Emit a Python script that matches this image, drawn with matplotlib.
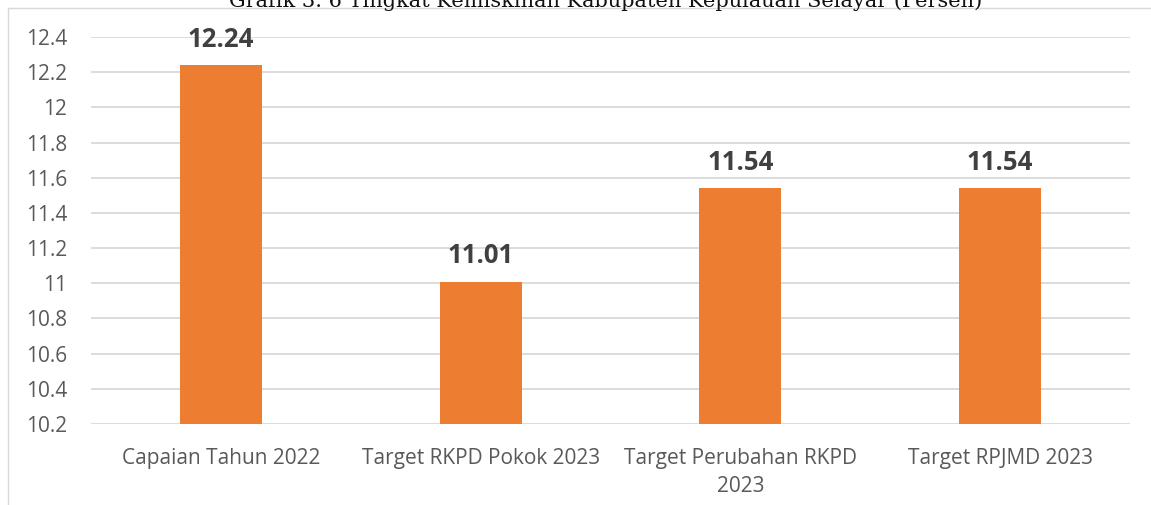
import matplotlib.pyplot as plt
from matplotlib.lines import Line2D

categories = ["Capaian Tahun 2022", "Target RKPD Pokok 2023",
              "Target Perubahan RKPD\n2023", "Target RPJMD 2023"]
values = [12.24, 11.01, 11.54, 11.54]
yticks = [10.2, 10.4, 10.6, 10.8, 11, 11.2, 11.4, 11.6, 11.8, 12, 12.2, 12.4]
ytick_labels = ["10.2", "10.4", "10.6", "10.8", "11", "11.2", "11.4", "11.6",
                "11.8", "12", "12.2", "12.4"]
title = "Grafik 3. 6 Tingkat Kemiskinan Kabupaten Kepulauan Selayar (Persen)"

plt.rcParams['font.family'] = ['Open Sans', 'DejaVu Sans']

W, H = 1151, 505
fig = plt.figure(figsize=(W / 100, H / 100), dpi=100)
ax = fig.add_axes([91 / W, 1 - 424 / H, (1130 - 91) / W, (424 - 37) / H])

x = range(len(categories))
bars = ax.bar(x, [v - 10.2 for v in values], bottom=10.2, width=0.315,
              color="#ed7d31", zorder=3)
for xi, v in zip(x, values):
    ax.text(xi, v + 0.105, f"{v:.2f}", ha="center", va="baseline",
            fontsize=18.5, fontweight="bold", color="#404040", clip_on=False)

ax.set_xlim(-0.5, 3.5)
ax.set_ylim(10.2, 12.4)
ax.set_yticks(yticks)
ax.set_yticklabels(ytick_labels)
ax.set_xticks(list(x))
ax.set_xticklabels(categories, linespacing=1.45)
ax.tick_params(axis="both", length=0, labelsize=15, colors="#595959")
ax.tick_params(axis="y", pad=17)
ax.tick_params(axis="x", pad=17)
ax.grid(axis="y", color="#d9d9d9", linewidth=1.3, zorder=0)
for s in ax.spines.values():
    s.set_visible(False)

# chart frame
fig.add_artist(Line2D([8 / W, 1], [1 - 8 / H, 1 - 8 / H], color="#d9d9d9", lw=1))
fig.add_artist(Line2D([8 / W, 8 / W], [0, 1 - 8 / H], color="#d9d9d9", lw=1))

fig.text(0.526, 1 - 1 / H, title, ha="center", va="center",
         fontsize=15, family="DejaVu Serif", color="#111111")

fig.savefig("out.png", dpi=100)
